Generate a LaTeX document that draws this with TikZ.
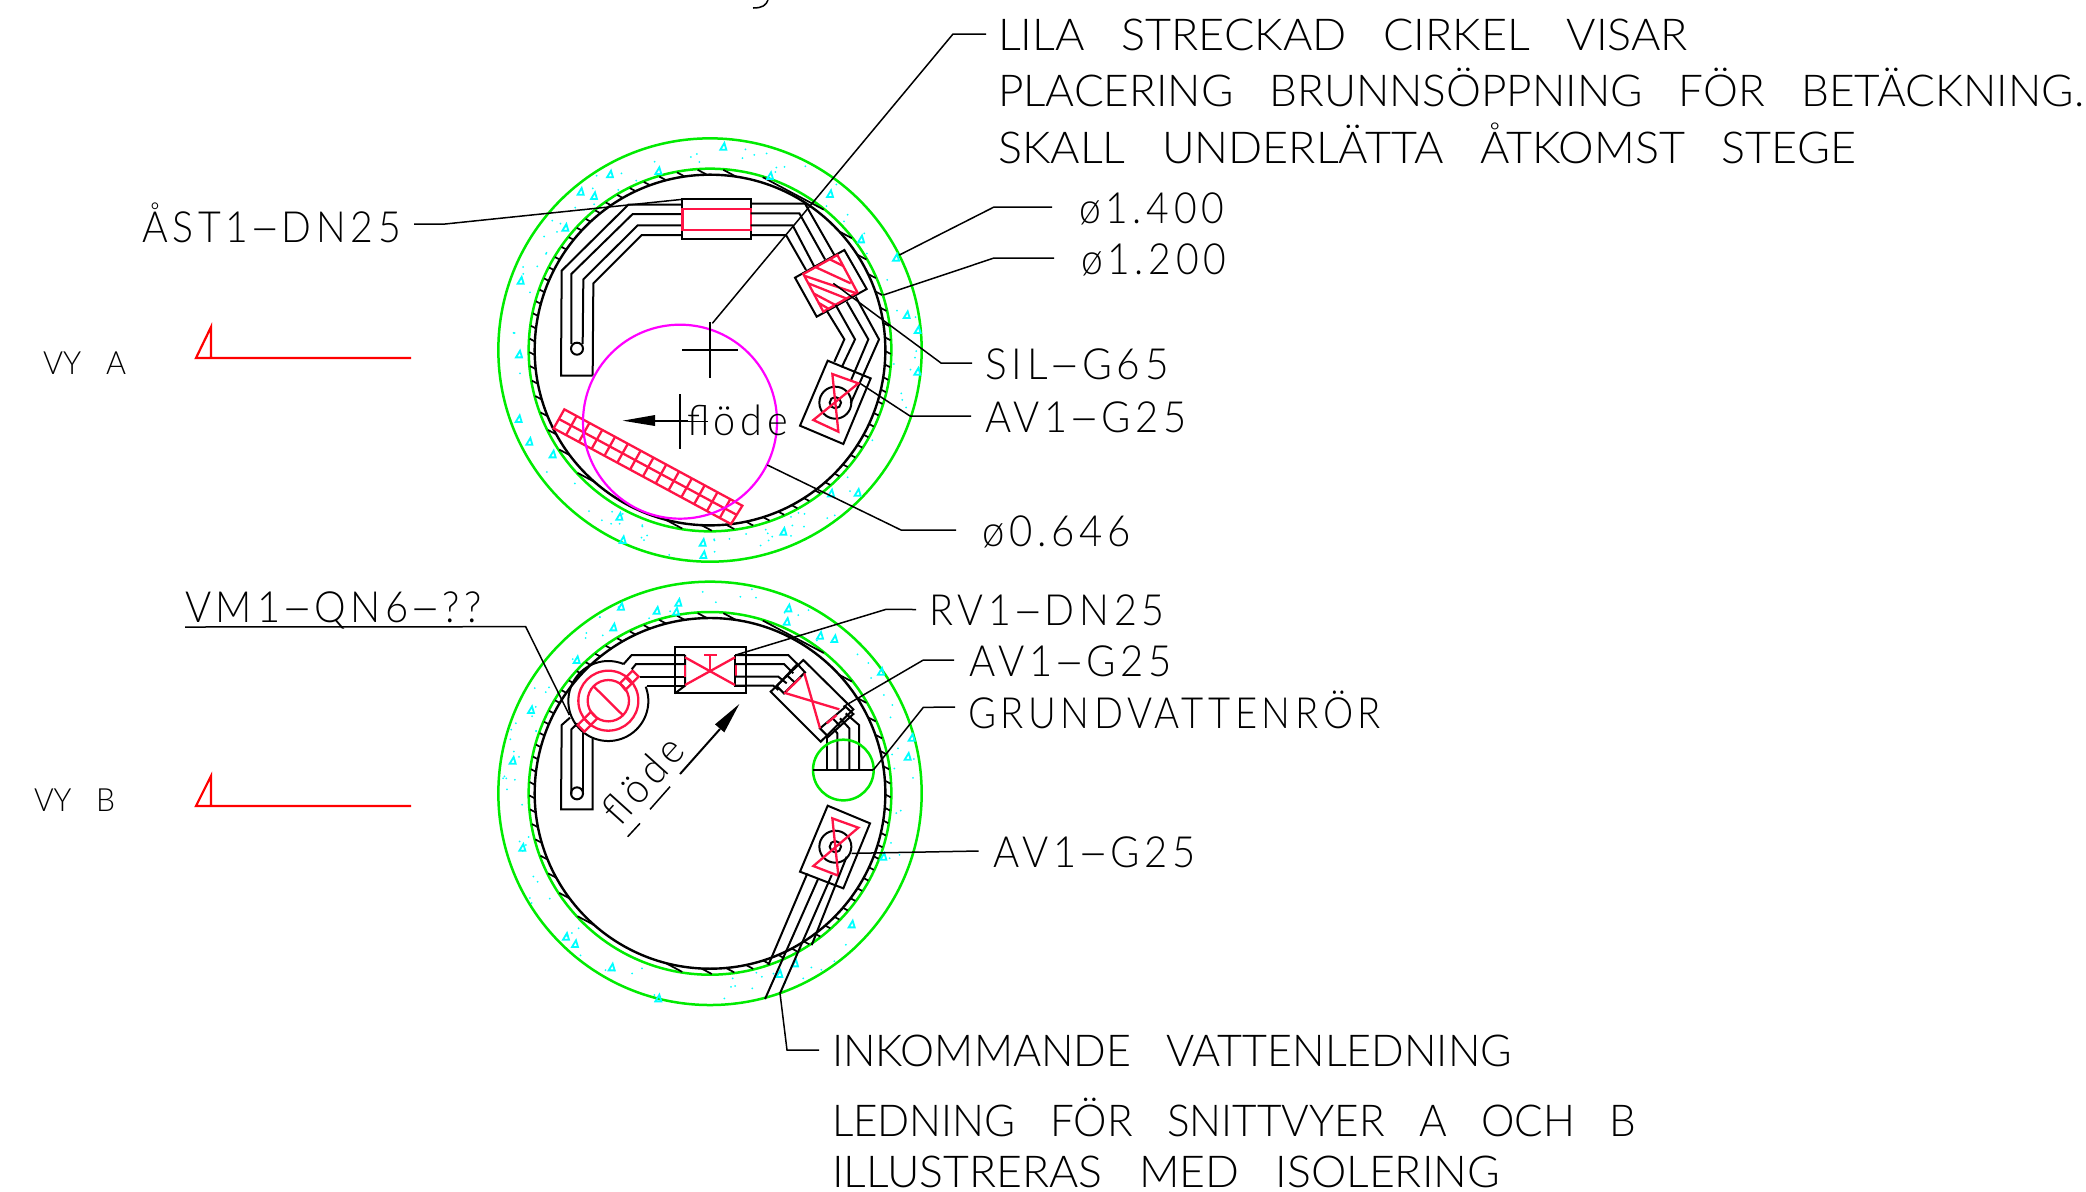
\documentclass[tikz,border=0pt]{standalone}
\usepackage{fontspec}
\usepackage{graphicx}
\newfontfamily\cadfont[WordSpace=3]{Lato Light}
\newfontfamily\cadwide[LetterSpace=12]{Lato Light}
\definecolor{cadgreen}{RGB}{0,235,0}
\definecolor{cadred}{RGB}{255,20,70}
\definecolor{cadmag}{RGB}{255,0,255}
\definecolor{cadcyan}{RGB}{0,255,255}
\newcommand{\hy}{\scalebox{2.3}[1]{-}}
\newcommand{\cadlabel}[6]{\node[cadtext] (#1) at (#2,#3) {\resizebox{\dimexpr #4pt/2\relax}{\height}{\fontsize{#5}{#5}\selectfont\cadfont #6}};}
\newcommand{\cadlabelw}[6]{\node[cadtext] (#1) at (#2,#3) {\resizebox{\dimexpr #4pt/2\relax}{\height}{\fontsize{#5}{#5}\selectfont\cadwide #6}};}
\tikzset{
 cadtext/.style={anchor=base west,inner sep=0pt,outer sep=0pt},
 pipe/.style={draw=black,line width=1pt,line join=miter},
 leader/.style={draw=black,line width=.75pt},
 redpart/.style={draw=cadred,line width=1.15pt},
 sectionmark/.style={draw=red,line width=1.1pt},
 greenring/.style={draw=cadgreen,line width=1.25pt},
 tickmark/.style={draw=black,line width=.85pt},
 speck/.style={draw=cadcyan,line width=.9pt},
 zoomA/.style={shift={(480,120)},x=.166667pt,y=-.166667pt},
 zoomB/.style={shift={(480,570)},x=.166667pt,y=-.166667pt},
}
% concrete ring, wall, hatch; #1,#2 centre, #3 seed
\newcommand{\manhole}[3]{%
 \pgfmathsetseed{#3}%
 \foreach \i in {1,...,85}{%
  \pgfmathsetmacro\ra{rnd*360}\pgfmathsetmacro\rr{552+rnd*76}%
  \fill[cadcyan] ({#1+\rr*cos(\ra)},{#2+\rr*sin(\ra)}) circle (3);}%
 \draw[greenring] (#1,#2) circle (635);
 \draw[greenring] (#1,#2) circle (544);
 \foreach \k in {-15,...,15}{%
  \pgfmathsetmacro\dd{\k*0.36+0.08}%
  \pgfmathsetmacro\ti{100*sqrt(max(0,5.26*5.26-\dd*\dd))}%
  \pgfmathsetmacro\to{100*sqrt(max(0,5.42*5.42-\dd*\dd))}%
  \pgfmathsetmacro\px{#1-100*\dd*sin(28)}\pgfmathsetmacro\py{#2+100*\dd*cos(28)}%
  \draw[tickmark] ({\px+\ti*cos(28)},{\py+\ti*sin(28)}) -- ({\px+\to*cos(28)},{\py+\to*sin(28)});
  \draw[tickmark] ({\px-\ti*cos(28)},{\py-\ti*sin(28)}) -- ({\px-\to*cos(28)},{\py-\to*sin(28)});
 }%
 \draw[pipe,line width=1.2pt] (#1,#2) circle (526);
}
\newcommand{\conetri}[2]{\draw[speck] (#1-9,#2+9) -- (#1+9,#2+9) -- (#1+3,#2-11) -- cycle;}
\begin{document}
\begin{tikzpicture}[x=.5pt,y=-.5pt]
\useasboundingbox (0,0) rectangle (2086,1191);
\fill[white] (0,0) rectangle (2086,1191);

% ---------- VIEW A
\begin{scope}[zoomA]
 \manhole{690}{690}{11}
 \foreach \a/\b in {730/80,535/153,390/163,302/215,342/228,256/323,122/482,117/703,116/897,148/965,218/1003,418/1190,428/1260,670/1305,668/1268,910/1235,1053/1120,1133/1118,1312/755,1313/630,1280/585,1248/413,1143/358,1050/222,870/168}{\conetri{\a}{\b}}
 % left pipe bundle
 \draw[pipe] (338,767) -- (243,767) -- (245,452) -- (445,254) -- (607,254);
 \draw[pipe] (274,672) -- (274,462) -- (458,282) -- (607,282);
 \draw[pipe] (308,672) -- (310,478) -- (473,316) -- (607,316);
 \draw[pipe] (338,767) -- (340,490) -- (485,345) -- (607,345);
 \draw[pipe] (291,686) circle (18);
 % strainer box
 \draw[pipe] (607,238) rectangle (812,358);
 \draw[redpart] (607,266) rectangle (812,330);
 % pipes to silencer
 \draw[pipe] (812,251) -- (975,251) -- (1063,405);
 \draw[pipe] (812,280) -- (958,280) -- (1035,418);
 \draw[pipe] (812,316) -- (938,316) -- (1003,440);
 \draw[pipe] (812,345) -- (918,345) -- (978,450);
 % silencer
 \draw[pipe] (1093,390) -- (1160,507) -- (1010,590) -- (945,473) -- cycle;
 \draw[redpart] (970,462) -- (1072,405) -- (1132,517) -- (1030,575) -- cycle;
 \draw[redpart] (1050,418) -- (1090,438);
 \draw[redpart] (1008,442) -- (1112,490);
 \draw[redpart] (975,468) -- (1130,520);
 \draw[redpart] (985,490) -- (1098,535);
 \draw[redpart] (1000,520) -- (1068,556);
 \draw[redpart] (1015,548) -- (1045,566);
 % pipes to valve
 \draw[pipe] (1127,530) -- (1197,658) -- (1112,850);
 \draw[pipe] (1100,545) -- (1165,658) -- (1112,783);
 \draw[pipe] (1067,555) -- (1125,658) -- (1085,742);
 \draw[pipe] (1040,572) -- (1093,658) -- (1063,725);
 % valve
 \draw[pipe] (1043,722) -- (1172,775) -- (1090,972) -- (960,917) -- cycle;
 \draw[pipe] (1066,848) circle (48);
 \draw[pipe] (1066,848) circle (17);
 \draw[redpart] (1057,762) -- (1135,790) -- (1000,900) -- (1075,935) -- cycle;
 % ladder
 \draw[redpart] (253,868) -- (787,1157) -- (753,1212) -- (221,925) -- cycle;
 \draw[redpart] (237,897) -- (771,1185);
 \foreach \t in {0,...,12}{%
  \pgfmathsetmacro\ux{290+\t*38.4}\pgfmathsetmacro\uy{888+\t*20.8}%
  \draw[redpart] (\ux,\uy) -- (\ux-32,\uy+57);}
 % magenta opening
 \draw[draw=cadmag,line width=1.1pt] (600,905) circle (291);
 % crosses
 \draw[leader] (607,690) -- (773,690);
 \draw[leader] (690,605) -- (690,773);
 \draw[leader] (517,905) -- (683,905);
 \draw[leader] (600,822) -- (600,988);
 % flow arrow
 \fill (428,902) -- (525,885) -- (525,918) -- cycle;
 \draw[pipe,line width=1.3pt] (525,903) -- (625,903);
 \coordinate (tipLila) at (697,610);
 \coordinate (tipAst) at (607,238);
 \coordinate (tipD14) at (1258,405);
 \coordinate (tipD12) at (1210,525);
 \coordinate (tipSil) at (1060,490);
 \coordinate (tipAvA) at (1140,790);
 \coordinate (tipD06) at (862,1035);
\end{scope}

% ---------- VIEW B
\begin{scope}[zoomB]
 \manhole{690}{670}{29}
 \foreach \a/\b in {423/110,530/122,595/98,588/125,400/172,290/270,153/420,98/572,127/833,258/1100,285/1122,395/1192,535/1285,898/1212,945/1180,1115/1063,1210/860,1283/560,1295/503,1203/305,1020/197,1063/207,925/115,920/155}{\conetri{\a}{\b}}
 % left riser
 \draw[pipe] (270,443) -- (245,465) -- (243,718) -- (338,718) -- (338,505);
 \draw[pipe] (274,672) -- (274,478) -- (293,460);
 \draw[pipe] (310,672) -- (310,490);
 \draw[pipe] (291,670) circle (18);
 % meter
 \draw[pipe,smooth] plot[domain=-68:-381,samples=90] ({385+120*cos(\x)},{393+120*sin(\x)});
 \draw[redpart] (385,392) circle (90);
 \draw[redpart] (385,392) circle (62);
 \draw[redpart] (342,350) -- (428,435);
 \draw[redpart] (458,302) -- (476,320) -- (436,360) -- (420,340) -- cycle;
 \draw[redpart] (437,322) -- (455,340);
 \draw[redpart] (293,465) -- (313,485) -- (352,445) -- (333,425) -- cycle;
 \draw[redpart] (312,445) -- (332,465);
 % pipes meter to check valve
 \draw[pipe] (430,283) -- (455,255) -- (615,255);
 \draw[pipe] (455,298) -- (468,282) -- (615,282);
 \draw[pipe] (480,320) -- (615,320);
 \draw[pipe] (502,347) -- (615,347);
 % check valve
 \draw[pipe] (585,232) rectangle (797,370);
 \draw[pipe] (615,255) -- (615,347) -- (585,370);
 \draw[pipe] (765,255) -- (765,347) -- (797,347);
 \draw[redpart] (615,262) -- (765,345);
 \draw[redpart] (615,345) -- (765,262);
 \draw[redpart] (615,285) -- (615,322);
 \draw[redpart] (767,285) -- (767,322);
 \draw[redpart] (690,255) -- (690,305);
 \draw[redpart] (672,255) -- (710,255);
 % pipes to shut-off valve
 \draw[pipe] (765,255) -- (925,255) -- (955,285);
 \draw[pipe] (765,282) -- (912,282) -- (940,310);
 \draw[pipe] (765,320) -- (895,320) -- (920,340);
 \draw[pipe] (765,347) -- (880,347) -- (895,360);
 % shut-off valve
 \draw[pipe] (970,270) -- (1120,418) -- (1022,515) -- (872,365) -- cycle;
 \draw[pipe] (952,282) -- (975,307) -- (912,370) -- (890,348) -- cycle;
 \draw[pipe] (920,315) -- (945,338);
 \draw[pipe] (1097,410) -- (1120,432) -- (1045,500) -- (1020,475) -- cycle;
 \draw[pipe] (1058,445) -- (1080,468);
 \draw[redpart] (973,310) -- (1020,475);
 \draw[redpart] (912,368) -- (1078,418);
 \draw[redpart] (918,365) -- (962,322);
 \draw[redpart] (1040,460) -- (1070,435);
 % pipes into groundwater tube
 \draw[pipe] (1097,430) -- (1137,465) -- (1137,600);
 \draw[pipe] (1080,445) -- (1108,475) -- (1108,600);
 \draw[pipe] (1060,475) -- (1072,490) -- (1072,600);
 \draw[pipe] (1040,500) -- (1040,600);
 \draw[greenring] (1090,600) circle (91);
 \draw[pipe] (998,600) -- (1180,600);
 % lower valve
 \draw[pipe] (1043,707) -- (1170,760) -- (1090,955) -- (960,905) -- cycle;
 \draw[pipe] (1066,830) circle (48);
 \draw[pipe] (1066,830) circle (17);
 \draw[redpart] (1057,745) -- (1135,773) -- (1000,888) -- (1075,917) -- cycle;
 \draw[pipe] (982,910) -- (865,1185);
 \draw[pipe] (1015,925) -- (855,1287);
 \draw[pipe] (1055,915) -- (900,1270);
 \draw[pipe] (1100,860) -- (995,1125);
 % flow arrow and label underline
 \fill (778,402) -- (705,463) -- (733,487) -- cycle;
 \draw[pipe] (600,612) -- (720,477);
 \draw[leader] (443,800) -- (480,760);
 \draw[leader] (510,718) -- (570,650);
 \coordinate (bendVm) at (137,170);
 \coordinate (tipVm) at (268,435);
 \coordinate (bendRv) at (1218,118);
 \coordinate (tipRv) at (767,255);
 \coordinate (bendAvT) at (1330,270);
 \coordinate (tipAvT) at (1090,410);
 \coordinate (bendGr) at (1330,412);
 \coordinate (tipGr) at (1180,600);
 \coordinate (tipAvL) at (1115,850);
 \coordinate (tipInk) at (900,1270);
\end{scope}

% ---------- labels
\cadlabel{lblLila}{998}{50}{690}{22}{LILA STRECKAD CIRKEL VISAR}
\cadlabel{lblPlac}{998}{106}{1086}{22}{PLACERING BRUNNSÖPPNING FÖR BETÄCKNING.}
\cadlabel{lblSkall}{998}{163}{858}{22}{SKALL UNDERLÄTTA ÅTKOMST STEGE}
\cadlabelw{lblDa}{1079}{223}{145}{21.5}{ø1.400}
\cadlabelw{lblDb}{1081}{274}{145}{21.5}{ø1.200}
\cadlabelw{lblAst}{142}{242}{259}{21.5}{ÅST1\hy DN25}
\cadlabel{lblVyA}{43}{374}{83}{16}{VY A}
\cadlabel{lblVyB}{34}{811}{81}{16}{VY B}
\cadlabelw{lblSil}{985}{379}{184}{21.5}{SIL\hy G65}
\cadlabelw{lblAvA}{985}{432}{202}{21.5}{AV1\hy G25}
\cadlabelw{lblDc}{982}{546}{149}{21.5}{ø0.646}
\cadlabelw{lblRv}{929.5}{625}{235}{21.5}{RV1\hy DN25}
\cadlabelw{lblAvT}{969}{676}{203}{21.5}{AV1\hy G25}
\cadlabelw{lblGr}{968}{728}{413}{21.5}{GRUNDVATTENRÖR}
\cadlabelw{lblAvL}{993.5}{867}{202.5}{21.5}{AV1\hy G25}
\cadlabelw{lblVm}{185}{622}{297}{21.5}{VM1\hy QN6\hy ??}
\cadlabel{lblInk}{832}{1066}{680}{22}{INKOMMANDE VATTENLEDNING}
\cadlabel{lblLed}{832}{1136}{804}{22}{LEDNING FÖR SNITTVYER A OCH B}
\cadlabel{lblIll}{832}{1187}{668}{22}{ILLUSTRERAS MED ISOLERING}
\cadlabelw{lblFlodeA}{687}{435}{101}{21}{flöde}
\node[cadtext,rotate=48] (lblFlodeB) at (620.7,827) {\resizebox{50pt}{\height}{\fontsize{21}{21}\selectfont\cadwide flöde}};

% ---------- leaders
\draw[leader] ([shift={(-12,-16)}]lblLila.base west) -- (953,34) -- (tipLila);
\draw[leader] ([shift={(13,-18)}]lblAst.base east) -- (445,224) -- (tipAst);
\draw[leader] ([shift={(-27,-16)}]lblDa.base west) -- (994,207) -- (tipD14);
\draw[leader] ([shift={(-27,-16)}]lblDb.base west) -- (994,258) -- (tipD12);
\draw[leader] ([shift={(-13,-16)}]lblSil.base west) -- (941,363) -- (tipSil);
\draw[leader] ([shift={(-14,-16)}]lblAvA.base west) -- (910,416) -- (tipAvA);
\draw[leader] ([shift={(-26,-16)}]lblDc.base west) -- (901,530) -- (tipD06);
\draw[leader] ([shift={(0,5)}]lblVm.base west) -- (bendVm) -- (tipVm);
\draw[leader] ([shift={(-13.5,-15.5)}]lblRv.base west) -- (bendRv) -- (tipRv);
\draw[leader] ([shift={(-15,-16)}]lblAvT.base west) -- (bendAvT) -- (tipAvT);
\draw[leader] ([shift={(-13,-21)}]lblGr.base west) -- (bendGr) -- (tipGr);
\draw[leader] ([shift={(-15,-16)}]lblAvL.base west) -- (tipAvL);
\draw[leader] ([shift={(-13,-16)}]lblInk.base west) -- (787,1050) -- (tipInk);

% ---------- section marks
\draw[sectionmark] (411,358) -- (196,358) -- (211,327) -- (211,358);
\draw[sectionmark] (411,806) -- (196,806) -- (211,776) -- (211,806);

% cut-off stroke at the top edge
\draw[leader] (768,0) .. controls (766,5) and (763,8) .. (753,8);
\end{tikzpicture}
\end{document}
